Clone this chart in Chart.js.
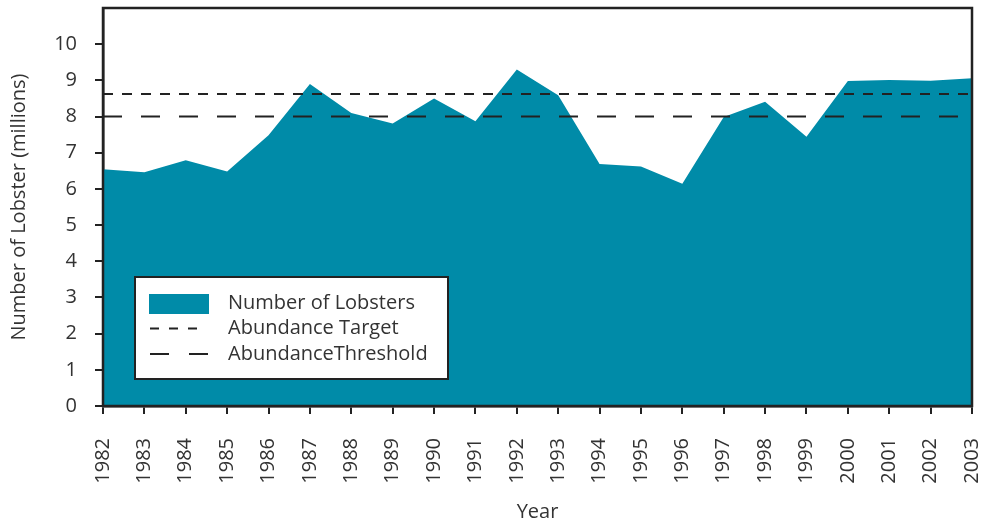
<!DOCTYPE html>
<html>
<head>
<meta charset="utf-8">
<script src="https://cdn.jsdelivr.net/npm/chart.js@4.4.1/dist/chart.umd.min.js"></script>
<style>
  html, body { margin: 0; padding: 0; background: #fff; }
  #wrap { width: 985px; height: 524px; }
</style>
</head>
<body>
<div id="wrap"><canvas id="chart" width="985" height="524"></canvas></div>
<script>
// values
const years = ['1982', '1983', '1984', '1985', '1986', '1987', '1988', '1989', '1990', '1991', '1992',
  '1993', '1994', '1995', '1996', '1997', '1998', '1999', '2000', '2001', '2002', '2003'];
const lobsters = [6.54, 6.46, 6.79, 6.48, 7.48, 8.90, 8.10, 7.81, 8.50, 7.87, 9.30,
  8.59, 6.69, 6.62, 6.14, 7.99, 8.41, 7.44, 8.98, 9.01, 8.99, 9.06];
const abundanceTarget = 8.62;
const abundanceThreshold = 8.0;

const FONT = '"Open Sans", Lato, sans-serif';
const FSIZE = 20;
const TEXT = '#333';
const INK = '#222';

// frame around plot area
const framePlugin = {
  id: 'frame',
  afterDatasetsDraw(chart) {
    const a = chart.chartArea, ctx = chart.ctx;
    ctx.save();
    ctx.strokeStyle = INK;
    ctx.lineWidth = 2.5;
    ctx.strokeRect(a.left, a.top, a.right - a.left, a.bottom - a.top);
    ctx.restore();
  }
};

// boxed legend inside the plot, drawn from the datasets
const boxLegend = {
  id: 'boxLegend',
  afterDraw(chart) {
    const ctx = chart.ctx;
    const x = 135, y = 277, w = 313, h = 102;
    ctx.save();
    ctx.fillStyle = '#fff';
    ctx.fillRect(x, y, w, h);
    ctx.strokeStyle = INK;
    ctx.lineWidth = 2;
    ctx.strokeRect(x, y, w, h);
    ctx.font = FSIZE + 'px ' + FONT;
    ctx.textBaseline = 'middle';
    chart.data.datasets.forEach((ds, i) => {
      const cy = 303 + i * 25.5;
      if (ds.fill) {
        ctx.fillStyle = ds.backgroundColor;
        ctx.fillRect(149, cy - 9, 60, 20);
      } else {
        ctx.strokeStyle = ds.borderColor;
        ctx.lineWidth = ds.borderWidth;
        ctx.setLineDash(ds.legendDash);
        ctx.beginPath();
        ctx.moveTo(150, cy);
        ctx.lineTo(ds.legendEnd, cy);
        ctx.stroke();
        ctx.setLineDash([]);
      }
      ctx.fillStyle = TEXT;
      ctx.fillText(ds.label, 228, cy);
    });
    ctx.restore();
  }
};

function noPad(scale) {
  scale.paddingLeft = 0;
  scale.paddingRight = 0;
  scale.paddingTop = 0;
  scale.paddingBottom = 0;
}

new Chart(document.getElementById('chart'), {
  type: 'line',
  data: {
    labels: years,
    datasets: [{
      label: 'Number of Lobsters',
      data: lobsters,
      fill: 'origin',
      backgroundColor: '#008ba8',
      borderColor: '#008ba8',
      borderWidth: 0,
      pointRadius: 0,
      lineTension: 0,
      order: 3
    }, {
      label: 'Abundance Target',
      data: years.map(() => abundanceTarget),
      fill: false,
      borderColor: INK,
      borderWidth: 2,
      borderDash: [10, 9],
      legendDash: [9, 10],
      legendEnd: 198,
      pointRadius: 0,
      order: 1
    }, {
      label: 'AbundanceThreshold',
      data: years.map(() => abundanceThreshold),
      fill: false,
      borderColor: INK,
      borderWidth: 2,
      borderDash: [19, 19],
      legendDash: [19, 20],
      legendEnd: 208,
      pointRadius: 0,
      order: 2
    }]
  },
  options: {
    responsive: false,
    animation: false,
    layout: { padding: { left: 0, top: 8, right: 13, bottom: 0 } },
    plugins: {
      legend: { display: false },
      tooltip: { enabled: false }
    },
    scales: {
      x: {
        offset: false,
        grid: { drawOnChartArea: false, tickLength: 8, color: INK, lineWidth: 2 },
        border: { color: INK, width: 2.5 },
        ticks: {
          color: TEXT, font: { family: FONT, size: FSIZE },
          minRotation: 90, maxRotation: 90, padding: 24, autoSkip: false
        },
        title: { display: true, text: 'Year', color: TEXT, font: { family: FONT, size: FSIZE }, padding: { top: 0, bottom: 0 } },
        afterFit(scale) { scale.height = 118; noPad(scale); }
      },
      y: {
        min: 0,
        max: 11,
        grid: { drawOnChartArea: false, tickLength: 8, color: INK, lineWidth: 2 },
        border: { color: INK, width: 2.5 },
        ticks: { stepSize: 1, color: TEXT, font: { family: FONT, size: FSIZE }, padding: 18 },
        afterBuildTicks(scale) { scale.ticks = scale.ticks.filter(t => t.value <= 10); },
        title: { display: true, text: 'Number of Lobster (millions)', color: TEXT, font: { family: FONT, size: FSIZE }, padding: { top: 7, bottom: 0 } },
        afterFit(scale) { scale.width = 103; noPad(scale); }
      }
    }
  },
  plugins: [framePlugin, boxLegend]
});
</script>
</body>
</html>
